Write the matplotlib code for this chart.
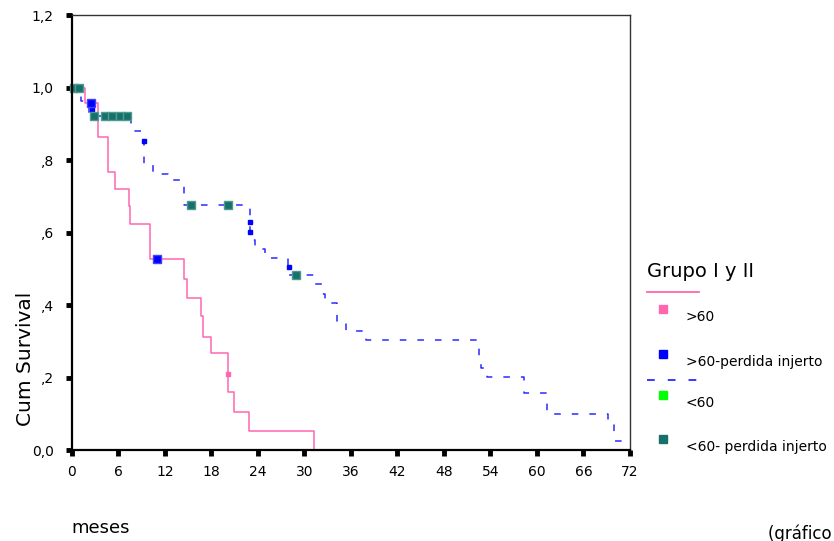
import matplotlib
matplotlib.use("Agg")
import matplotlib.pyplot as plt
from matplotlib.lines import Line2D

# survival curves (months, cumulative survival)
over60_t = [0, 1.7, 3.3, 4.7, 5.6, 7.3, 7.5, 10.05, 14.5, 14.8, 16.6, 16.9,
            17.9, 20.1, 20.9, 22.9, 31.2]
over60_s = [1.0, 0.958, 0.865, 0.768, 0.719, 0.673, 0.624, 0.527, 0.473, 0.421,
            0.369, 0.313, 0.267, 0.161, 0.106, 0.054, 0.0]

under60_t = [0, 1.2, 2.2, 7.6, 9.3, 10.5, 12.4, 14.4, 23.0, 23.6, 24.9, 27.9,
             31.2, 32.2, 32.7, 34.2, 35.3, 38.0, 52.5, 52.8, 53.5, 58.3, 61.3,
             69.2, 69.9, 72.2]
under60_s = [1.0, 0.962, 0.923, 0.88, 0.79, 0.763, 0.744, 0.677, 0.581, 0.556,
             0.531, 0.484, 0.459, 0.43, 0.405, 0.357, 0.329, 0.304, 0.258, 0.226,
             0.203, 0.157, 0.101, 0.078, 0.026, 0.026]

# censored points
over60_cens_t = [20.1]
over60_cens_s = [0.209]
over60_loss_t = [2.4, 11.0]
over60_loss_s = [0.957, 0.527]
under60_loss_t = [0.2, 0.9, 2.8, 4.2, 5.2, 6.2, 7.1, 15.3, 20.1, 28.9]
under60_loss_s = [1.0, 1.0, 0.923, 0.923, 0.923, 0.923, 0.923, 0.677, 0.677, 0.484]
small_dots_t = [2.6, 9.3, 23.0, 23.0, 28.0]
small_dots_s = [0.939, 0.852, 0.628, 0.602, 0.505]

x_ticks = list(range(0, 73, 6))
y_ticks = [0.0, 0.2, 0.4, 0.6, 0.8, 1.0, 1.2]
y_labels = ["0,0", ",2", ",4", ",6", ",8", "1,0", "1,2"]

legend_title = "Grupo I y II"
legend_labels = [">60", ">60-perdida injerto", "<60", "<60- perdida injerto"]

PINK = "#ff66b0"
BLUE = "#0000ff"
DASH = "#2a2aff"
GREEN = "#00ff00"
TEAL = "#17706a"

fig = plt.figure(figsize=(8.34, 5.41), dpi=100)
ax = fig.add_axes([0.0863, 0.168, 0.6690, 0.804])

ax.step(over60_t, over60_s, where="post", color=PINK, lw=1.1)
ax.step(under60_t, under60_s, where="post", color=DASH, lw=1.1,
        linestyle=(0, (4.3, 7.2)))

ax.plot(over60_cens_t, over60_cens_s, "s", color=PINK, ms=2.5, ls="none")
ax.plot(small_dots_t, small_dots_s, "s", color=BLUE, ms=2.5, ls="none")
ax.plot(over60_loss_t, over60_loss_s, "s", color=BLUE, mec="#4040ff",
        ms=6, ls="none", clip_on=False)
ax.plot(under60_loss_t, under60_loss_s, "s", color=TEAL, mec="#4f9a90",
        ms=6, ls="none", clip_on=False)

ax.set_xlim(0, 72)
ax.set_ylim(0, 1.2)
ax.set_xticks(x_ticks)
ax.set_yticks(y_ticks)
ax.set_yticklabels(y_labels)
ax.tick_params(axis="both", direction="out", length=4, width=3.5,
               color="black", labelsize=10)
ax.tick_params(axis="x", pad=7)
ax.tick_params(axis="y", pad=9)

for side in ["left", "bottom"]:
    ax.spines[side].set_linewidth(1.6)
for side in ["top", "right"]:
    ax.spines[side].set_linewidth(1.0)
    ax.spines[side].set_color("#333333")

# axis texts
fig.text(0.031, 0.336, "Cum Survival", rotation=90, ha="center", va="center",
         fontsize=14.5)
fig.text(0.086, 0.024, "meses", ha="left", va="center", fontsize=13)
fig.text(0.921, 0.004, "(gráfico 1)", ha="left", va="baseline", fontsize=12)
# title mostly cut off at the top edge
fig.text(0.439, 1.011, "grupo I y II", ha="center", va="baseline", fontsize=20,
         color="#333333")

# hand-drawn legend
fig.text(0.776, 0.498, legend_title, ha="left", va="center", fontsize=14)
fig.add_artist(Line2D([0.776, 0.838], [0.4597, 0.4597], color=PINK, lw=1.3,
                      transform=fig.transFigure))
fig.add_artist(Line2D([0.776, 0.838], [0.2976, 0.2976], color=DASH, lw=1.3,
                      linestyle=(0, (4.3, 7.2)), transform=fig.transFigure))
sq_y = [0.4283, 0.3457, 0.2699, 0.1885]
lab_y = [0.4135, 0.3314, 0.2551, 0.1743]
sq_colors = [PINK, BLUE, GREEN, TEAL]
for label, sy, ly, c in zip(legend_labels, sq_y, lab_y, sq_colors):
    fig.add_artist(Line2D([0.795], [sy], marker="s", ms=6, color=c,
                          transform=fig.transFigure))
    fig.text(0.8225, ly, label, ha="left", va="center", fontsize=10)

fig.savefig("out.png", dpi=100)
